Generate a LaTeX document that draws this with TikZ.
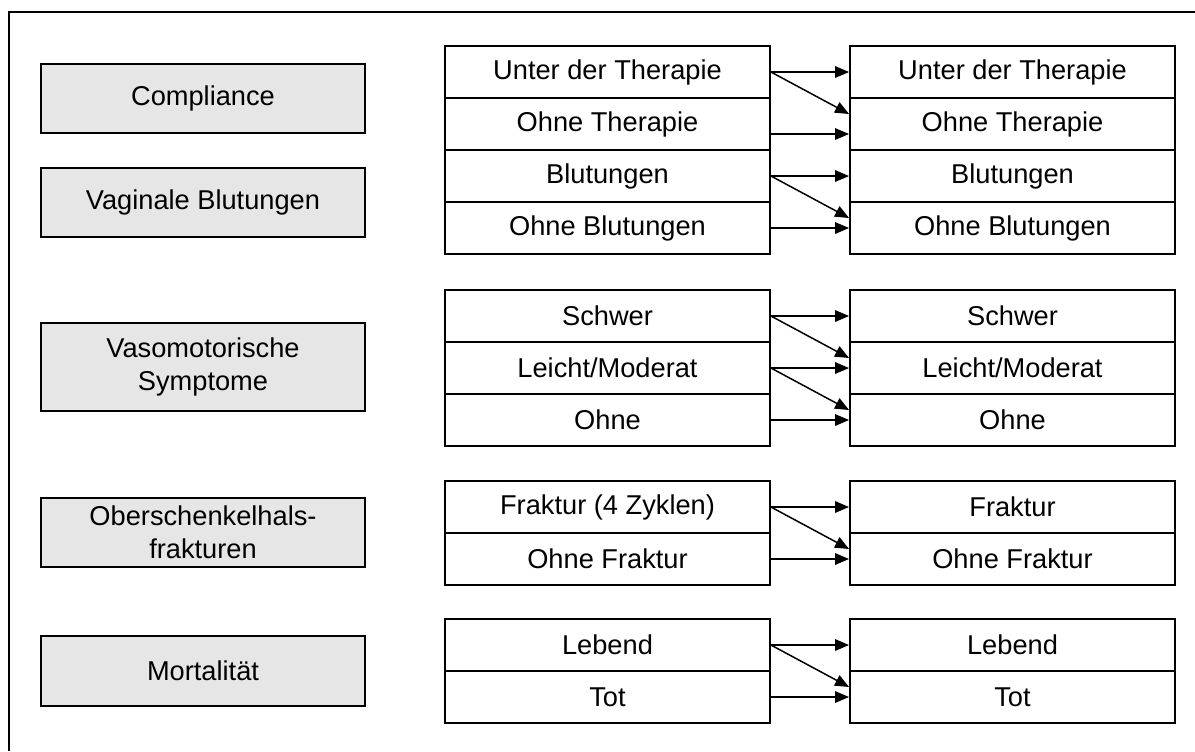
\documentclass[tikz,border=0pt]{standalone}
\usepackage{fontspec}
\setmainfont{Liberation Sans}
\usetikzlibrary{arrows.meta}
\definecolor{catgrey}{RGB}{230,230,230}
\tikzset{
  statebox/.style={draw, line width=1.1pt, minimum width=6.5cm, minimum height=1.04cm, inner sep=0pt, font=\fontsize{15.5}{18}\selectfont},
  catbox/.style={draw, line width=1.1pt, fill=catgrey, minimum width=6.48cm, inner sep=0pt, align=center, font=\fontsize{15.5}{18.5}\selectfont},
  trans/.style={-{Triangle[length=2.8mm,width=2.3mm]}, line width=0.85pt}
}
\newcommand{\staterow}[4]{\node[statebox] (#1) at ( #2 , #3 ) {#4};}
\newcommand{\catnode}[4]{\node[catbox, minimum height=#3] (#1) at ( 203 , #2 ) {#4};}
\newcommand{\arrstay}[2]{\draw[trans] (#1.east) -- (#2.west);}
\newcommand{\arrmove}[2]{\draw[trans] (#1.east) -- ([yshift=0.2cm]#2.west);}

\begin{document}
\begin{tikzpicture}[x=0.02cm, y=-0.02cm]
        \useasboundingbox (0,0) rectangle (1195,751);
        \draw[line width=0.9pt] (1195,12) -- (9,12) -- (9,751);

        % categories
        \catnode{comp}{98.5}{1.38cm}{Compliance}
        \catnode{blut}{202.5}{1.38cm}{Vaginale Blutungen}
        \catnode{vaso}{367}{1.76cm}{Vasomotorische\\Symptome}
        \catnode{frak}{532.5}{1.38cm}{Oberschenkelhals-\\frakturen}
        \catnode{mort}{671}{1.4cm}{Mortalit\"at}

        % block 1
        \staterow{ta}{607.5}{72}{Unter der Therapie}
        \staterow{tb}{607.5}{124}{Ohne Therapie}
        \staterow{tc}{607.5}{176}{Blutungen}
        \staterow{td}{607.5}{228}{Ohne Blutungen}
        \staterow{ua}{1012.5}{72}{Unter der Therapie}
        \staterow{ub}{1012.5}{124}{Ohne Therapie}
        \staterow{uc}{1012.5}{176}{Blutungen}
        \staterow{ud}{1012.5}{228}{Ohne Blutungen}

        \arrstay{ta}{ua}
        \arrmove{ta}{ub}
        \draw[trans] ([yshift=-0.2cm]tb.east) -- ([yshift=-0.2cm]ub.west);
        \arrstay{tc}{uc}
        \arrmove{tc}{ud}
        \arrstay{td}{ud}

        % block 2
        \staterow{va}{607.5}{316}{Schwer}
        \staterow{vb}{607.5}{368}{Leicht/Moderat}
        \staterow{vc}{607.5}{420}{Ohne}
        \staterow{wa}{1012.5}{316}{Schwer}
        \staterow{wb}{1012.5}{368}{Leicht/Moderat}
        \staterow{wc}{1012.5}{420}{Ohne}

        \arrstay{va}{wa}
        \arrmove{va}{wb}
        \arrstay{vb}{wb}
        \arrmove{vb}{wc}
        \arrstay{vc}{wc}

        % block 3
        \staterow{fa}{607.5}{507}{Fraktur (4 Zyklen)}
        \staterow{fb}{607.5}{559}{Ohne Fraktur}
        \staterow{ga}{1012.5}{507}{Fraktur}
        \staterow{gb}{1012.5}{559}{Ohne Fraktur}

        \arrstay{fa}{ga}
        \arrmove{fa}{gb}
        \arrstay{fb}{gb}

        % block 4
        \staterow{la}{607.5}{645}{Lebend}
        \staterow{lb}{607.5}{697}{Tot}
        \staterow{ma}{1012.5}{645}{Lebend}
        \staterow{mb}{1012.5}{697}{Tot}

        \arrstay{la}{ma}
        \arrmove{la}{mb}
        \arrstay{lb}{mb}
\end{tikzpicture}
\end{document}
